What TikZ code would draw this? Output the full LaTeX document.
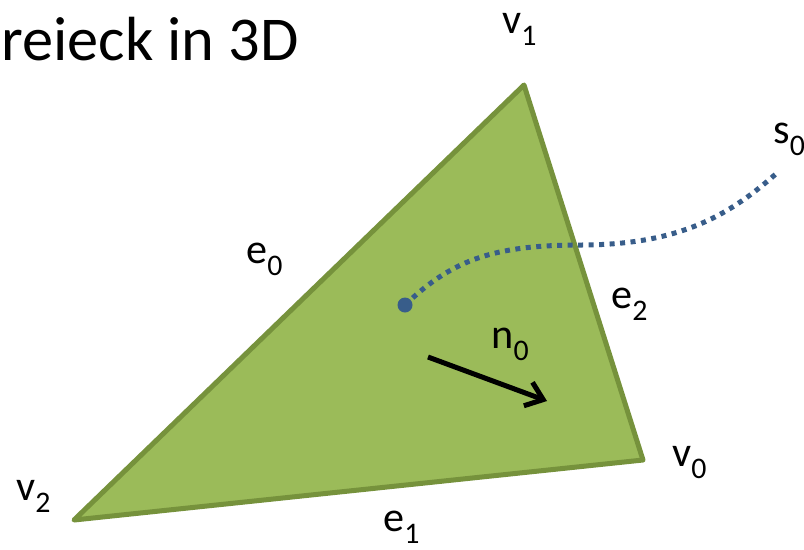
\documentclass[tikz,border=0pt]{standalone}
\usepackage{fontspec}
\setmainfont{Carlito}
\usetikzlibrary{arrows.meta}
\definecolor{trigreen}{RGB}{155,187,89}
\definecolor{triedge}{RGB}{118,146,60}
\definecolor{rayblue}{RGB}{56,93,138}
\newcommand{\lblsub}[2]{#1\raisebox{-7pt}{\fontsize{17}{17}\selectfont #2}}

\begin{document}
\begin{tikzpicture}[x=0.02cm,y=-0.02cm,font=\fontsize{24}{28}\selectfont,
    lbl/.style={anchor=base west,inner sep=0pt}]
    \useasboundingbox (0,0) rectangle (804,549);
    \coordinate (v0) at (643,460);
    \coordinate (v1) at (524,85);
    \coordinate (v2) at (74,520);
    \coordinate (hit) at (405,305);
    \coordinate (cross) at (580,245);
    \coordinate (far) at (778,172);
    \coordinate (nstart) at (428,357);
    \coordinate (nend) at (547,401);
    \node[lbl,font=\fontsize{35.5}{40}\selectfont] (title) at (1,60) {reieck in 3D};
    \fill[trigreen] (v0) -- (v1) -- (v2) -- cycle;
    \draw[triedge,line width=0.1cm,line join=round] (v0) -- (v1) -- (v2) -- cycle;
    % ray through the triangle
    \draw[rayblue,line width=0.1cm,dash pattern=on 0.1cm off 0.11cm] (hit) .. controls (450,262) and (490,245) .. (cross)
        .. controls (680,245) and (730,215) .. (far);
    \fill[rayblue] (hit) circle (7.5);
    \draw[-{Straight Barb[length=0.32cm,width=0.5cm]},line width=0.1cm] (nstart) -- (nend);
    \node[lbl] (lv1) at (502,33) {\lblsub{v}{1}};
    \node[lbl] (lv0) at (672,466) {\lblsub{v}{0}};
    \node[lbl] (lv2) at (16,500) {\lblsub{v}{2}};
    \node[lbl] (le0) at (246,263) {\lblsub{e}{0}};
    \node[lbl] (le1) at (383,531) {\lblsub{e}{1}};
    \node[lbl] (le2) at (611,308) {\lblsub{e}{2}};
    \node[lbl] (ln0) at (491,348) {\lblsub{n}{0}};
    \node[lbl] (ls0) at (773,143) {\lblsub{s}{0}};
\end{tikzpicture}
\end{document}
